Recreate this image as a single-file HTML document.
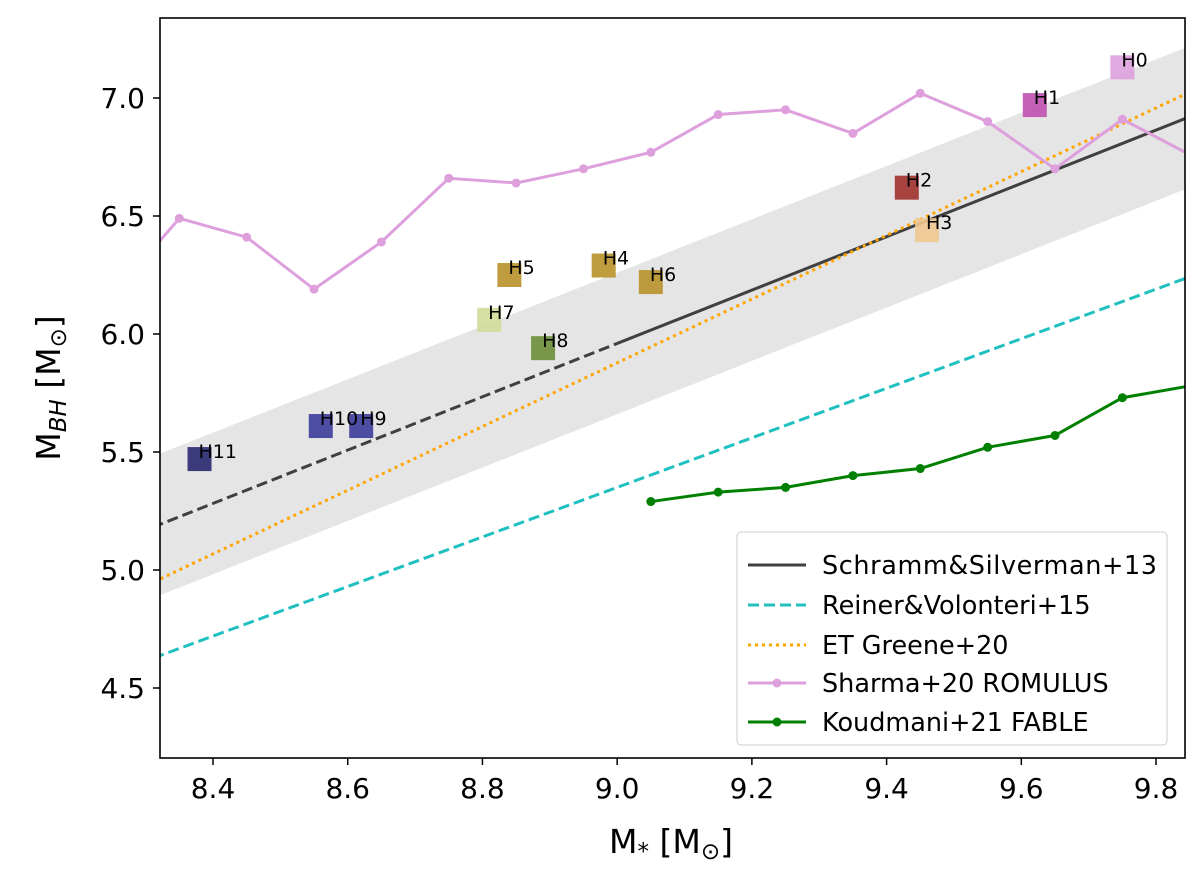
<!DOCTYPE html>
<html><head><meta charset="utf-8"><style>
body{margin:0;background:#fff}
svg text{font-family:"DejaVu Sans","Liberation Sans",sans-serif}
</style></head><body>
<svg id="c" width="1200" height="874" xmlns="http://www.w3.org/2000/svg">
<defs><clipPath id="clip"><rect x="160" y="18" width="1025" height="740"/></clipPath></defs>
<g id="plot" clip-path="url(#clip)"></g>
<rect x="160" y="18" width="1025" height="740" fill="none" stroke="#000" stroke-width="1.6"/>
<g id="axes"></g>
<text x="671" y="853" font-size="33" text-anchor="middle">M<tspan font-size="23" dy="6">*</tspan><tspan dy="-6"> [M</tspan><tspan font-size="23" dy="6">⊙</tspan><tspan dy="-6">]</tspan></text>
<text transform="translate(60,388) rotate(-90)" font-size="33" text-anchor="middle">M<tspan font-size="23" dy="6" font-style="italic">BH</tspan><tspan dy="-6"> [M</tspan><tspan font-size="23" dy="6">⊙</tspan><tspan dy="-6">]</tspan></text>
<g>
<rect x="737" y="532" width="430" height="213" rx="4" fill="#fff" fill-opacity="0.85" stroke="#ccc"/>
<line x1="748" y1="565" x2="806" y2="565" stroke="#404040" stroke-width="3"/>
<text x="822" y="574" font-size="25.5" textLength="335">Schramm&amp;Silverman+13</text>
<line x1="748" y1="605" x2="806" y2="605" stroke="#20c0c0" stroke-width="3" stroke-dasharray="11,5"/>
<text x="822" y="614" font-size="25.5">Reiner&amp;Volonteri+15</text>
<line x1="748" y1="645" x2="806" y2="645" stroke="#ffa500" stroke-width="3" stroke-dasharray="3,4"/>
<text x="822" y="654" font-size="25.5">ET Greene+20</text>
<line x1="748" y1="683" x2="806" y2="683" stroke="#dda0dd" stroke-width="3"/><circle cx="777" cy="683" r="4.5" fill="#dda0dd"/>
<text x="822" y="692" font-size="25.5">Sharma+20 ROMULUS</text>
<line x1="748" y1="722" x2="806" y2="722" stroke="#008000" stroke-width="3"/><circle cx="777" cy="722" r="4.5" fill="#008000"/>
<text x="822" y="731" font-size="25.5">Koudmani+21 FABLE</text>
</g>
</svg>
<script>
const xTicks=[8.4,8.6,8.8,9.0,9.2,9.4,9.6,9.8];
const yTicks=[4.5,5.0,5.5,6.0,6.5,7.0];
const romX=[8.25,8.35,8.45,8.55,8.65,8.75,8.85,8.95,9.05,9.15,9.25,9.35,9.45,9.55,9.65,9.75,9.85];
const romY=[6.16,6.49,6.41,6.19,6.39,6.66,6.64,6.70,6.77,6.93,6.95,6.85,7.02,6.90,6.70,6.91,6.76];
const fabX=[9.05,9.15,9.25,9.35,9.45,9.55,9.65,9.75,9.85];
const fabY=[5.29,5.33,5.35,5.40,5.43,5.52,5.57,5.73,5.78];
const haloNames=["H0","H1","H2","H3","H4","H5","H6","H7","H8","H9","H10","H11"];
const haloX=[9.75,9.62,9.43,9.46,8.98,8.84,9.05,8.81,8.89,8.62,8.56,8.38];
const haloY=[7.13,6.97,6.62,6.44,6.29,6.25,6.22,6.06,5.94,5.61,5.61,5.47];
const haloColors=["#dda0dd","#c050b0","#a0302c","#f0c890","#b8922a","#b8922a","#b8922a","#d0dc98","#6b8e3a","#3c3c9c","#3c3c9c","#282870"];
const X=v=>213+(v-8.4)*673.6, Y=v=>98+(7-v)*236;
const NS="http://www.w3.org/2000/svg";
const plot=document.getElementById('plot'), axes=document.getElementById('axes');
function mk(p,t,a){const e=document.createElementNS(NS,t);for(const k in a)e.setAttribute(k,a[k]);p.appendChild(e);return e;}
const schramm=x=>5.96+1.13*(x-9), reines=x=>7.45+1.05*(x-11), greene=x=>4.96+1.35*(x-8.32);
const x0=8.2,x1=9.9;
let band=mk(plot,'polygon',{points:`${X(x0)},${Y(schramm(x0)+0.3)} ${X(x1)},${Y(schramm(x1)+0.3)} ${X(x1)},${Y(schramm(x1)-0.3)} ${X(x0)},${Y(schramm(x0)-0.3)}`,fill:'#e5e5e5'});


let s1=mk(plot,'line',{x1:X(x0),y1:Y(schramm(x0)),x2:X(9.0),y2:Y(schramm(9.0)),stroke:'#404040','stroke-width':3,'stroke-dasharray':'11,5'});


let s2=mk(plot,'line',{x1:X(9.0),y1:Y(schramm(9.0)),x2:X(x1),y2:Y(schramm(x1)),stroke:'#404040','stroke-width':3});


let r=mk(plot,'line',{x1:X(x0),y1:Y(reines(x0)),x2:X(x1),y2:Y(reines(x1)),stroke:'#20c0c0','stroke-width':3,'stroke-dasharray':'11,5'});


let g=mk(plot,'line',{x1:X(x0),y1:Y(greene(x0)),x2:X(x1),y2:Y(greene(x1)),stroke:'#ffa500','stroke-width':3,'stroke-dasharray':'3,4'});


function series(xs,ys,col,name){
 const l=mk(plot,'polyline',{points:xs.map((x,i)=>X(x)+','+Y(ys[i])).join(' '),fill:'none',stroke:col,'stroke-width':3});
 
 
 xs.forEach((x,i)=>{const c=mk(plot,'circle',{cx:X(x),cy:Y(ys[i]),r:4.5,fill:col});
 
 });
}
series(romX,romY,'#dda0dd','romulus');
series(fabX,fabY,'#008000','fable');
haloNames.forEach((n,i)=>{
 const r=mk(plot,'rect',{x:X(haloX[i])-12,y:Y(haloY[i])-12,width:24,height:24,fill:haloColors[i],'fill-opacity':0.9});
 
 
 const t=mk(plot,'text',{x:X(haloX[i])-1,y:Y(haloY[i])-1,'font-size':19});
 t.textContent=n;
 
 
});
xTicks.forEach(v=>{
 mk(axes,'line',{x1:X(v),y1:758,x2:X(v),y2:765,stroke:'#000','stroke-width':1.5});
 const t=mk(axes,'text',{x:X(v),y:798,'font-size':28,'text-anchor':'middle'});t.textContent=v.toFixed(1);
 
 
});
yTicks.forEach(v=>{
 mk(axes,'line',{x1:153,y1:Y(v),x2:160,y2:Y(v),stroke:'#000','stroke-width':1.5});
 const t=mk(axes,'text',{x:145,y:Y(v)+10,'font-size':28,'text-anchor':'end'});t.textContent=v.toFixed(1);
 
 
});
</script>
</body></html>
